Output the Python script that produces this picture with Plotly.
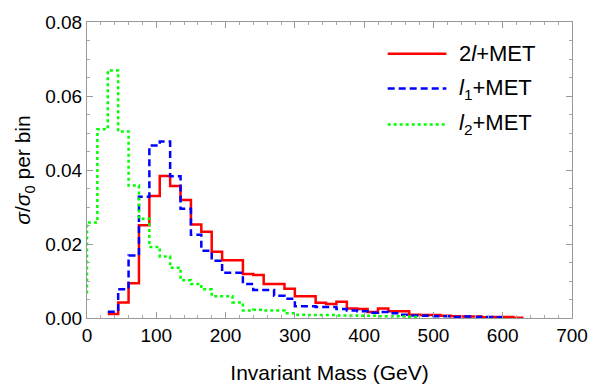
import plotly.graph_objects as go

# ---- data ----
bin_width = 15
series_names = ["2<i>l</i>+MET", "<i>l</i><sub>1</sub>+MET", "<i>l</i><sub>2</sub>+MET"]
series_colors = ["#FF0000", "#0000FF", "#00FF00"]

red_start = 30
red_values = [0.0011, 0.0042, 0.0094, 0.0251, 0.0330, 0.0384, 0.0357, 0.0319, 0.0253, 0.0233,
              0.0179, 0.0156, 0.0156, 0.0119, 0.0116, 0.0092, 0.0092, 0.0079, 0.0059, 0.0059,
              0.0041, 0.0038, 0.0044, 0.0026, 0.0024, 0.0016, 0.0026, 0.0018, 0.0018, 0.0009,
              0.0008, 0.0008, 0.0006, 0.0005, 0.0004, 0.0004, 0.0002, 0.0003, 0.0003, 0.0001]

blue_start = 30
blue_values = [0.0017, 0.0078, 0.0169, 0.0328, 0.0466, 0.0477, 0.0383, 0.0295, 0.0225, 0.0182,
               0.0155, 0.0122, 0.0122, 0.0092, 0.0076, 0.0076, 0.0060, 0.0052, 0.0032, 0.0032,
               0.0030, 0.0030, 0.0024, 0.0020, 0.0018, 0.0014, 0.0016, 0.0013, 0.0009, 0.0007,
               0.0006, 0.0005, 0.0005, 0.0003, 0.0004, 0.0003, 0.0003, 0.0002]

green_start = 0
green_lead = 0.0066
green_values = [0.0258, 0.0510, 0.0669, 0.0504, 0.0358, 0.0268, 0.0192, 0.0166, 0.0136, 0.0102,
                0.0092, 0.0078, 0.0059, 0.0059, 0.0042, 0.0020, 0.0022, 0.0020, 0.0020, 0.0013,
                0.0009, 0.0008, 0.0008, 0.0008, 0.0007, 0.0007, 0.0006, 0.0006, 0.0005, 0.0005,
                0.0004, 0.0003]

x_ticks = [0, 100, 200, 300, 400, 500, 600, 700]
y_ticks = [0.00, 0.02, 0.04, 0.06, 0.08]


def step_xy(start, values):
    xs = [start + bin_width * i for i in range(len(values) + 1)]
    ys = list(values) + [values[-1]]
    return xs, ys


fig = go.Figure()
dashes = ["solid", "7px,4px", "3px,3px"]
data_sets = [(red_start, red_values), (blue_start, blue_values), (green_start, green_values)]
for i, (st, vals) in enumerate(data_sets):
    xs, ys = step_xy(st, vals)
    if i == 2:
        xs = [st] + xs
        ys = [green_lead] + ys
    fig.add_trace(go.Scatter(x=xs, y=ys, mode="lines", line_shape="hv",
                             line=dict(color=series_colors[i], width=2.5, dash=dashes[i]),
                             name=series_names[i], showlegend=False))

# custom legend (long line samples)
leg_y = [0.893, 0.775, 0.654]
for i in range(3):
    fig.add_shape(type="line", xref="paper", yref="paper",
                  x0=0.62, x1=0.741, y0=leg_y[i], y1=leg_y[i],
                  line=dict(color=series_colors[i], width=2.5, dash=dashes[i]))
    fig.add_annotation(xref="paper", yref="paper", x=0.762, y=leg_y[i], text=series_names[i],
                       showarrow=False, xanchor="left", yanchor="middle",
                       font=dict(size=22, color="black", family="Liberation Sans, Arial"))

axis_common = dict(showgrid=False, zeroline=False, showline=True, linecolor="#999999",
                   linewidth=1, mirror="allticks", ticks="inside", ticklen=6,
                   tickcolor="#999999", tickfont=dict(size=19, color="black"))

fig.update_xaxes(range=[0, 700], tickvals=x_ticks, ticktext=[str(v) for v in x_ticks],
                 minor=dict(ticks="inside", ticklen=3, dtick=20, tickcolor="#aaaaaa"),
                 title=dict(text="Invariant Mass (GeV)", font=dict(size=21), standoff=20),
                 **axis_common)
fig.update_yaxes(range=[0, 0.08], tickvals=y_ticks, ticktext=[f"{v:.2f}" for v in y_ticks],
                 minor=dict(ticks="inside", ticklen=3, dtick=0.005, tickcolor="#aaaaaa"),
                 title=dict(text="<i>σ</i>/<i>σ</i><sub>0</sub> per bin", font=dict(size=21), standoff=8),
                 **axis_common)

fig.update_layout(width=600, height=392, margin=dict(l=87, r=16, t=14, b=74),
                  paper_bgcolor="white", plot_bgcolor="white",
                  font=dict(family="Liberation Sans, Arial", color="black"))

fig.write_html("out.html")
